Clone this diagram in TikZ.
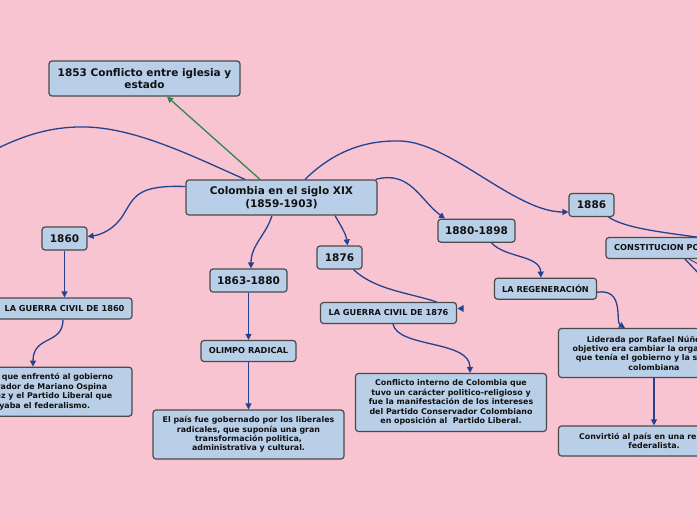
\documentclass[tikz,border=0pt]{standalone}
\usepackage{fontspec}
\setmainfont{DejaVu Sans}
\usetikzlibrary{arrows.meta,backgrounds}
\definecolor{bgpink}{HTML}{F9C4D1}
\definecolor{boxfill}{HTML}{B9CFE8}
\definecolor{boxdraw}{HTML}{4A4A4A}
\definecolor{conn}{HTML}{22438F}
\definecolor{grn}{HTML}{2A8A4F}
\definecolor{txt}{HTML}{111111}
\tikzset{
  box/.style={draw=boxdraw, fill=boxfill, line width=1.2pt, rounded corners=3pt,
    align=center, inner sep=0pt, text=txt},
  big/.style={box, font=\fontsize{10.5}{12.5}\selectfont\bfseries},
  lab/.style={box, font=\fontsize{8.2}{9.5}\selectfont\bfseries},
  desc/.style={box, font=\fontsize{7.9}{9.4}\selectfont\bfseries},
  link/.style={draw=conn, line width=1.3pt, -{Triangle[length=6pt,width=6pt]}},
  linkn/.style={draw=conn, line width=1.3pt},
  glink/.style={draw=grn, line width=1.3pt, -{Triangle[length=6pt,width=6pt]}},
}
\begin{document}
\begin{tikzpicture}[x=1pt,y=-1pt]
\useasboundingbox (0,0) rectangle (697,520);
% nodes
\node[big, minimum width=191pt, minimum height=35pt] (n1853) at (144.5,78.5) {1853 Conflicto entre iglesia y\\estado};
\node[big, minimum width=191pt, minimum height=35pt] (col) at (281.5,197.5) {Colombia en el siglo XIX\\(1859-1903)};
\node[big, minimum width=45pt, minimum height=23pt] (y1860) at (64.5,238.5) {1860};
\node[lab, minimum width=135pt, minimum height=21pt] (g1860) at (64.5,308.5) {LA GUERRA CIVIL DE 1860};
\node[desc, minimum width=191pt, minimum height=49pt] (d1860) at (36.5,391.7) {Conflicto que enfrentó al gobierno\\conservador de Mariano Ospina\\Rodríguez y el Partido Liberal que\\apoyaba el federalismo.};
\node[big, minimum width=77pt, minimum height=23pt] (y1863) at (248.5,280.5) {1863-1880};
\node[lab, minimum width=95pt, minimum height=21pt] (olim) at (248.5,351) {OLIMPO RADICAL};
\node[desc, minimum width=191pt, minimum height=49pt] (dolim) at (248.5,434.5) {El país fue gobernado por los liberales\\radicales, que suponía una gran\\transformación politica,\\administrativa y cultural.};
\node[big, minimum width=45pt, minimum height=23pt] (y1876) at (339.5,257.5) {1876};
\node[lab, minimum width=136pt, minimum height=21pt] (g1876) at (388.5,313) {LA GUERRA CIVIL DE 1876};
\node[desc, minimum width=191pt, minimum height=58pt] (d1876) at (451,402.5) {Conflicto interno de Colombia que\\tuvo un carácter politico-religioso y\\fue la manifestación de los intereses\\del Partido Conservador Colombiano\\en oposición al\ \ Partido Liberal.};
\node[big, minimum width=77pt, minimum height=23pt] (y1880) at (476.5,230.7) {1880-1898};
\node[lab, minimum width=102pt, minimum height=21pt] (regen) at (545.5,288.7) {LA REGENERACIÓN};
\node[desc, minimum width=191pt, minimum height=49pt] (lid) at (654,353) {Liderada por Rafael Núñez, su\\objetivo era cambiar la organización\\que tenía el gobierno y la sociedad\\colombiana};
\node[desc, minimum width=191pt, minimum height=30pt] (conv) at (654,441) {Convirtió al país en una república\\federalista.};
\node[big, minimum width=45pt, minimum height=23pt] (y1886) at (591.5,205) {1886};
\node[lab, minimum width=172pt, minimum height=21pt] (cons) at (692,248) {CONSTITUCION POLITICA DE 1886};
% off-canvas ends
\coordinate (offL) at (-10,152);
\coordinate (offR1) at (700,237.5);
\coordinate (offR2) at (705,280);
\coordinate (offR3) at (705,267.5);
% connectors
\begin{scope}[on background layer]
\fill[bgpink] (0,0) rectangle (697,520);
\draw[glink] ([xshift=-21.5pt]col.north) -- ([xshift=22.5pt]n1853.south);
\draw[link] ([yshift=11pt]col.west) .. controls (140,185) and (135,195) .. (125,212)
   .. controls (115,230) and (100,235) .. ([yshift=2pt]y1860.east);
\draw[linkn] ([xshift=-36.5pt]col.north) .. controls (190,155) and (130,125) .. (77,127)
   .. controls (45,128) and (20,137) .. (offL);
\draw[link] ([xshift=-9.5pt]col.south) .. controls (266,235) and (251,245) .. ([xshift=2.5pt]y1863.north);
\draw[link] ([xshift=53.5pt]col.south) .. controls (341,226) and (346,234) .. ([xshift=8pt]y1876.north);
\draw[link] ([xshift=-2pt]col.north east) .. controls (410,170) and (420,200) .. ([xshift=-31.5pt]y1880.north);
\draw[link] ([xshift=23.5pt]col.north) .. controls (330,155) and (360,140) .. (400,141)
   .. controls (450,142) and (515,212) .. ([yshift=-7pt]y1886.west);
\draw[link] (y1860.south) -- (g1860.north);
\draw[link] ([xshift=-1.5pt]g1860.south) .. controls (63,345) and (33,335) .. ([xshift=-3.5pt]d1860.north);
\draw[link] (y1863.south) -- (olim.north);
\draw[link] (olim.south) -- (dolim.north);
\draw[linkn] ([xshift=14pt]y1876.south) .. controls (375,290) and (410,293) .. ([xshift=48pt]g1876.north);
\draw[link] ([xshift=4.5pt]g1876.south) .. controls (398,348) and (470,340) .. ([xshift=19pt]d1876.north);
\draw[link] ([xshift=15pt]y1880.south) .. controls (505,258) and (540,255) .. ([xshift=-4.5pt]regen.north);
\draw[link] ([yshift=-3.5pt]regen.east) .. controls (625,288) and (615,322) .. ([xshift=-29pt]lid.north);
\draw[link] (lid.south) -- (conv.north);
\draw[linkn] ([xshift=17pt]y1886.south) .. controls (625,228) and (660,232) .. (offR1);
\draw[linkn] ([xshift=-7pt]cons.south) -- (offR2);
\draw[linkn, line width=0.9pt] ([xshift=-3pt]cons.south) -- (offR3);
\end{scope}
\fill[conn] ([xshift=0.5pt,yshift=4.5pt]g1876.east) -- ++(6pt,3.5pt) -- ++(0pt,-7pt) -- cycle;
\end{tikzpicture}
\end{document}
